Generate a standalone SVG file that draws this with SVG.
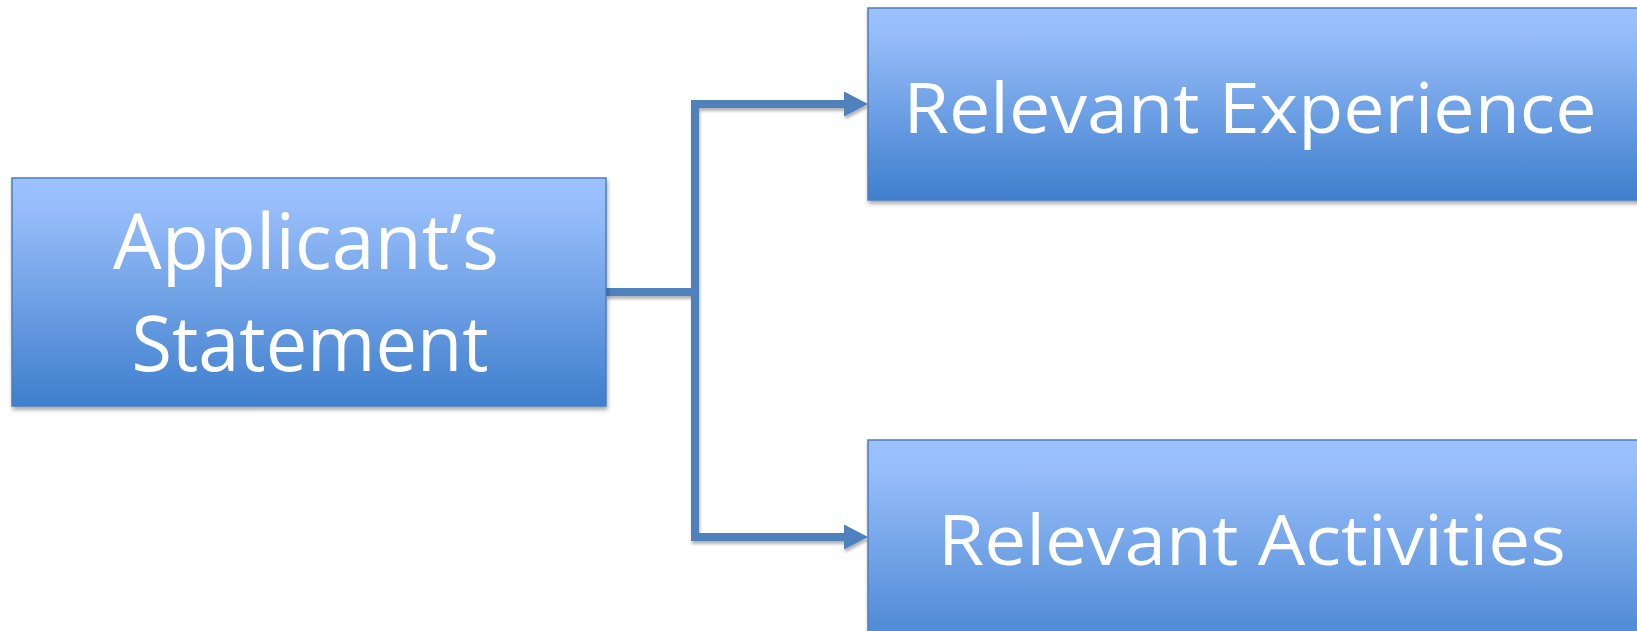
<svg xmlns="http://www.w3.org/2000/svg" width="1637" height="631" viewBox="0 0 1637 631">
<style>
.box{fill:url(#g);stroke:#4a7ebb;stroke-width:1.5;filter:url(#sh)}
.lbl{font-family:"Open Sans","Liberation Sans",sans-serif;fill:#ffffff;text-anchor:middle}
.con{fill:none;stroke:#4f81bd;stroke-width:8}
</style>
<defs>
<linearGradient id="g" x1="0" y1="0" x2="0" y2="1">
<stop offset="0" stop-color="#9cc2fe"/>
<stop offset="0.15" stop-color="#95bcf9"/>
<stop offset="1" stop-color="#3f7fcd"/>
</linearGradient>
<filter id="sh" x="-5%" y="-5%" width="110%" height="115%">
<feGaussianBlur in="SourceAlpha" stdDeviation="2"/>
<feOffset dx="1" dy="3" result="b"/>
<feComponentTransfer><feFuncA type="linear" slope="0.35"/></feComponentTransfer>
<feMerge><feMergeNode/><feMergeNode in="SourceGraphic"/></feMerge>
</filter>
<filter id="sh2" filterUnits="userSpaceOnUse" x="0" y="0" width="1637" height="631">
<feGaussianBlur in="SourceAlpha" stdDeviation="1.5"/>
<feOffset dx="1" dy="3"/>
<feComponentTransfer><feFuncA type="linear" slope="0.3"/></feComponentTransfer>
<feMerge><feMergeNode/><feMergeNode in="SourceGraphic"/></feMerge>
</filter>
<marker id="arr" markerUnits="userSpaceOnUse" markerWidth="30" markerHeight="30" refX="2" refY="13" orient="auto">
<path d="M0,0.5 L24,13 L0,25.5 Z" fill="#4f81bd"/>
</marker>
</defs>
<g id="connectors" filter="url(#sh2)">
<path class="con" d="M606,292 H695"/>
<path class="con" d="M695,100 V541"/>
<path class="con" d="M691,104 H846" marker-end="url(#arr)"/>
<path class="con" d="M691,537 H846" marker-end="url(#arr)"/>
</g>
<g id="node-applicant">
<rect class="box" x="12" y="178" width="594" height="228"/>
<text class="lbl" x="306" y="269" font-size="77" textLength="386" lengthAdjust="spacingAndGlyphs">Applicant’s</text>
<text class="lbl" x="310" y="371" font-size="77" textLength="357" lengthAdjust="spacingAndGlyphs">Statement</text>
</g>
<g id="node-experience">
<rect class="box" x="868" y="8" width="775" height="192"/>
<text class="lbl" x="1250" y="133" font-size="69" textLength="693" lengthAdjust="spacingAndGlyphs">Relevant Experience</text>
</g>
<g id="node-activities">
<rect class="box" x="868" y="440" width="775" height="230"/>
<text class="lbl" x="1252" y="565" font-size="69" textLength="628" lengthAdjust="spacingAndGlyphs">Relevant Activities</text>
</g>
</svg>
